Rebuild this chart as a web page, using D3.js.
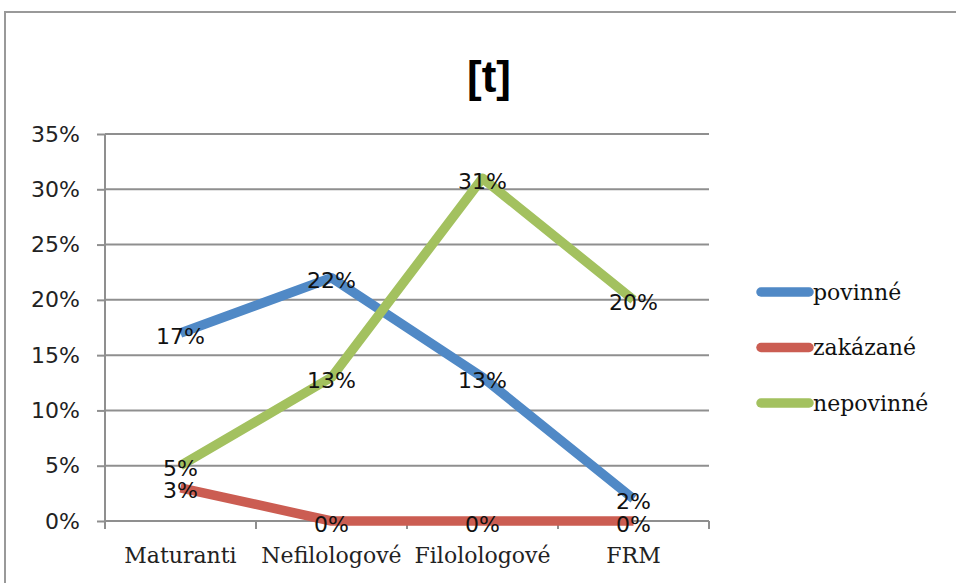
<!DOCTYPE html>
<html>
<head>
<meta charset="utf-8">
<script src="https://d3js.org/d3.v7.min.js"></script>
<style>
  html, body { margin: 0; padding: 0; background: #fff; }
  svg { display: block; }
</style>
</head>
<body>
<svg id="chart" width="956" height="583"></svg>
<script>
const title = "[t]";
const categories = ["Maturanti", "Nefilologové", "Filolologové", "FRM"];
const seriesNames = ["povinné", "zakázané", "nepovinné"];
const povinne = [0.17, 0.22, 0.13, 0.02];
const zakazane = [0.03, 0.00, 0.00, 0.00];
const nepovinne = [0.05, 0.13, 0.31, 0.20];
const yTicks = [0, 0.05, 0.10, 0.15, 0.20, 0.25, 0.30, 0.35];
const colors = ["#5089C6", "#CB5D52", "#A3C15F"];

const seriesValues = [povinne, zakazane, nepovinne];
const series = seriesNames.map((name, i) => ({ name, color: colors[i], values: seriesValues[i] }));

const svg = d3.select("#chart");
const plotLeft = 105, plotRight = 709, plotTop = 134, plotBottom = 521;

// outer border
svg.append("rect").attr("x", 5).attr("y", 12).attr("width", 1000).attr("height", 700)
  .attr("fill", "#fff").attr("stroke", "#999").attr("stroke-width", 2);

const x = d3.scaleBand().domain(categories).range([plotLeft, plotRight]).padding(0);
const y = d3.scaleLinear().domain([0, 0.35]).range([plotBottom, plotTop]);
const px = c => x(c) + x.bandwidth() / 2;

const grid = "#8f8f8f";

// gridlines
svg.append("g").selectAll("line").data(yTicks.filter(t => t > 0)).join("line")
  .attr("x1", plotLeft).attr("x2", plotRight)
  .attr("y1", d => y(d)).attr("y2", d => y(d))
  .attr("stroke", grid).attr("stroke-width", 2);

// y axis
const yAxis = svg.append("g").attr("transform", `translate(${plotLeft},0)`)
  .call(d3.axisLeft(y).tickValues(yTicks).tickSize(8).tickSizeOuter(0).tickPadding(17).tickFormat(d3.format(".0%")));
yAxis.select(".domain").attr("stroke", grid).attr("stroke-width", 2)
  .attr("d", `M0,${plotTop}V${plotBottom + 8}`);
yAxis.selectAll(".tick line").attr("stroke", grid).attr("stroke-width", 2);
yAxis.selectAll(".tick text").attr("font-family", "DejaVu Sans").attr("font-size", 22).attr("fill", "#222");

// x axis
const xAxis = svg.append("g").attr("transform", `translate(0,${plotBottom})`)
  .call(d3.axisBottom(x).tickSize(0).tickSizeOuter(0).tickPadding(26));
xAxis.select(".domain").attr("stroke", grid).attr("stroke-width", 2).attr("d", `M${plotLeft},0H${plotRight}`);
xAxis.selectAll(".tick text").attr("font-family", "DejaVu Serif").attr("font-size", 22).attr("fill", "#222");
const boundaries = categories.map(c => x(c)).concat([plotRight]);
xAxis.append("g").selectAll("line").data(boundaries).join("line")
  .attr("x1", d => d).attr("x2", d => d).attr("y1", 0).attr("y2", 8)
  .attr("stroke", grid).attr("stroke-width", 2);

// lines
const line = d3.line().x((d, i) => px(categories[i])).y(d => y(d));
svg.append("g").selectAll("path").data(series).join("path")
  .attr("d", d => line(d.values))
  .attr("fill", "none").attr("stroke", d => d.color).attr("stroke-width", 9.5)
  .attr("stroke-linejoin", "round").attr("stroke-linecap", "butt");

// data labels
const fmt = d3.format(".0%");
series.forEach(s => {
  svg.append("g").selectAll("text").data(s.values).join("text")
    .attr("x", (d, i) => px(categories[i]))
    .attr("y", d => y(d) + 3)
    .attr("text-anchor", "middle").attr("dominant-baseline", "central")
    .attr("font-family", "DejaVu Sans").attr("font-size", 22).attr("fill", "#111")
    .text(d => fmt(d));
});

// title
svg.append("text").attr("x", 489).attr("y", 92).attr("text-anchor", "middle")
  .attr("font-family", "Liberation Sans").attr("font-weight", "bold").attr("font-size", 44)
  .attr("fill", "#000").text(title);

// legend
const legY = d3.scalePoint().domain(seriesNames).range([292, 403]);
const leg = svg.append("g").selectAll("g").data(series).join("g")
  .attr("transform", d => `translate(0,${legY(d.name)})`);
leg.append("line").attr("x1", 761).attr("x2", 809).attr("y1", 0).attr("y2", 0)
  .attr("stroke", d => d.color).attr("stroke-width", 9.5).attr("stroke-linecap", "round");
leg.append("text").attr("x", 813).attr("y", 0).attr("dominant-baseline", "central")
  .attr("font-family", "DejaVu Serif").attr("font-size", 22).attr("fill", "#111")
  .text(d => d.name);
</script>
</body>
</html>
